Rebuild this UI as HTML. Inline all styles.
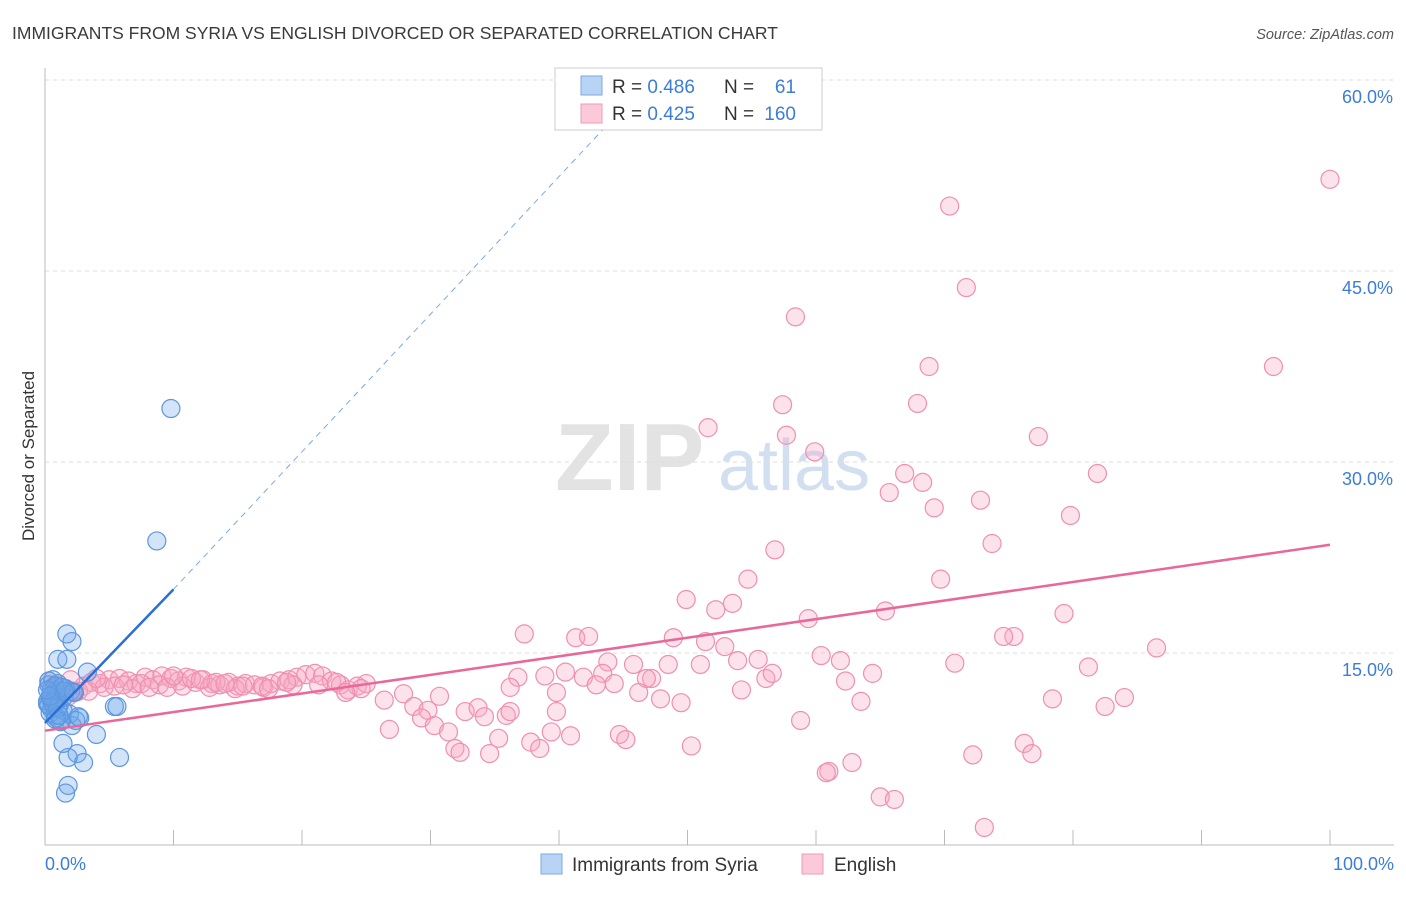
<!DOCTYPE html>
<html><head><meta charset="utf-8"><style>
body{margin:0;background:#fff;font-family:"Liberation Sans",sans-serif}
svg text{font-family:"Liberation Sans",sans-serif}
</style></head><body>
<svg id="chart" width="1406" height="892" viewBox="0 0 1406 892" xmlns="http://www.w3.org/2000/svg">
<text x="12" y="39" font-size="17.5" fill="#3a3a3a">IMMIGRANTS FROM SYRIA VS ENGLISH DIVORCED OR SEPARATED CORRELATION CHART</text>
<text x="1394" y="39" font-size="14.5" fill="#555" font-style="italic" text-anchor="end">Source: ZipAtlas.com</text>
<g>
<text x="555" y="490" font-size="96" fill="#ddd" font-family="Liberation Serif" font-weight="bold" opacity="0.8">ZIP</text>
<text x="718" y="490" font-size="72" fill="#c8d8ee" opacity="0.8">atlas</text>
</g>
<g id="grid"></g>
<g id="axes"></g>
<g id="pts"></g>
<g id="lines"></g>
<text transform="translate(34,456) rotate(-90)" font-size="17" fill="#333" text-anchor="middle">Divorced or Separated</text>
<g>
<rect x="555" y="68" width="267" height="62" fill="#fff" stroke="#ccc"/>
<rect x="581" y="76" width="21" height="19" fill="#b9d3f5" stroke="#7aa9e6"/>
<rect x="581" y="104" width="21" height="19" fill="#fcc9d8" stroke="#f09ab5"/>
<text x="612" y="93" font-size="19" fill="#333">R = <tspan fill="#3b7dd8">0.486</tspan></text>
<text x="724" y="93" font-size="19" fill="#333">N =</text><text x="796" y="93" font-size="19" fill="#3b7dd8" text-anchor="end">61</text>
<text x="612" y="120" font-size="19" fill="#333">R = <tspan fill="#3b7dd8">0.425</tspan></text>
<text x="724" y="120" font-size="19" fill="#333">N =</text><text x="796" y="120" font-size="19" fill="#3b7dd8" text-anchor="end">160</text>
</g>
<g>
<rect x="541" y="854" width="21" height="20" fill="#b9d3f5" stroke="#7aa9e6"/>
<text x="572" y="871" font-size="19" fill="#333">Immigrants from Syria</text>
</g>
<g>
<rect x="802" y="854" width="21" height="20" fill="#fcc9d8" stroke="#f09ab5"/>
<text x="834" y="871" font-size="19" fill="#333">English</text>
</g>
</svg>
<script>
const yTicks=[15,30,45,60];
const xTickLabels=["0.0%","100.0%"];
const blueX=[9.8,8.7,1.7,2.1,1.0,1.7,3.3,5.4,4.0,5.8,2.5,3.0,1.8,1.4,1.8,1.6,2.7,2.1,1.3,0.8,0.3,0.5,0.8,1.0,1.2,0.4,0.6,0.9,1.5,2.0,2.3,0.2,0.5,0.7,1.1,1.4,0.3,0.6,1.9,2.4,5.6,1.2,0.9,0.4,0.2,1.6,0.8,0.5,1.0,1.3,0.7,2.2,0.3,0.6,1.0,1.5,0.4,0.8,1.1,0.2,2.6];
const blueY=[34.2,23.8,16.5,15.9,14.5,14.5,13.5,10.8,8.6,6.8,7.1,6.4,6.8,7.9,4.6,4.0,9.9,9.3,9.7,10.1,12.5,12.2,12.0,12.6,11.8,11.4,11.0,11.2,11.6,12.0,11.9,11.0,10.6,10.8,10.9,10.5,12.8,12.9,10.2,9.7,10.8,9.6,9.9,10.3,11.2,12.2,12.4,11.7,11.5,12.3,11.3,11.9,10.9,11.1,10.7,12.0,11.6,9.8,10.1,12.1,10.0];
const pinkX=[100,70.4,71.7,58.4,68.8,95.6,57.4,67.9,51.6,57.7,77.3,59.9,66.9,81.9,68.3,65.7,72.8,69.2,79.8,73.7,56.8,54.7,69.7,49.9,53.5,52.2,65.4,59.4,79.3,37.3,41.3,42.3,75.4,74.6,48.9,51.4,52.9,86.5,60.4,43.8,45.8,48.5,51.0,53.9,55.5,61.9,70.8,81.2,64.4,40.5,36.8,38.9,41.9,43.4,47.2,44.3,42.9,46.8,56.1,56.6,62.3,54.2,46.2,47.9,49.5,63.5,84.0,78.4,82.5,39.8,36.2,30.7,27.9,26.4,28.7,29.8,32.7,33.7,34.2,35.9,36.2,39.8,29.3,30.3,58.8,26.8,31.4,35.3,37.8,39.4,40.9,44.7,45.2,31.9,32.3,34.6,38.5,50.3,76.2,76.8,72.2,62.8,61.0,60.8,65.0,66.1,73.1,
0.3,0.8,1.5,2.2,3.0,3.6,4.3,5.0,5.8,6.5,7.1,7.8,8.4,9.1,9.8,10.4,11.0,11.7,12.3,13.0,13.6,14.3,15.0,15.6,16.3,17.0,17.6,18.3,19.0,19.6,20.3,21.0,21.6,22.3,23.0,23.6,24.3,25.0,1.0,2.6,4.6,6.8,8.9,10.7,12.8,14.8,16.9,19.3,22.7,24.6,0.5,1.8,3.4,5.4,7.5,9.5,11.4,13.3,15.4,17.4,18.8,21.3,23.4,2.0,4.0,6.1,8.1,10.0,12.1,14.0];
const pinkY=[52.2,50.1,43.7,41.4,37.5,37.5,34.5,34.6,32.7,32.1,32.0,30.8,29.1,29.1,28.4,27.6,27.0,26.4,25.8,23.6,23.1,20.8,20.8,19.2,18.9,18.4,18.3,17.7,18.1,16.5,16.2,16.3,16.3,16.3,16.2,15.9,15.5,15.4,14.8,14.3,14.1,14.1,14.1,14.4,14.5,14.4,14.2,13.9,13.4,13.5,13.1,13.2,13.1,13.4,13.0,12.6,12.5,13.0,13.0,13.4,12.8,12.1,11.9,11.4,11.1,11.2,11.5,11.4,10.8,11.9,12.3,11.6,11.8,11.3,10.8,10.5,10.4,10.7,10.0,10.1,10.4,10.4,9.9,9.3,9.7,9.0,8.8,8.3,8.0,8.8,8.5,8.6,8.2,7.5,7.2,7.1,7.5,7.7,7.9,7.1,7.0,6.4,5.7,5.6,3.7,3.5,1.3,
12.8,12.5,12.2,12.0,12.4,12.7,12.6,12.9,13.0,12.8,12.6,13.1,12.9,13.2,13.0,12.8,13.1,12.7,12.9,12.6,12.5,12.7,12.4,12.6,12.5,12.3,12.6,12.8,12.9,13.1,13.3,13.4,13.2,12.8,12.5,12.1,12.4,12.6,11.8,12.0,12.3,12.2,12.5,12.4,12.3,12.2,12.4,12.5,12.7,12.2,12.0,11.6,12.0,12.4,12.6,12.3,13.0,12.7,12.4,12.2,12.7,12.5,11.9,12.9,13.0,12.5,12.3,13.2,12.9,12.6];
const blueTrend=[[0,9.5],[10,20.0]];
const blueDash=[[10,20.0],[43.5,56.2]];
const pinkTrend=[[0,8.9],[100,23.5]];
const X0=45,X1=1330,Y0=844,PPY=12.733;
const sx=v=>X0+(X1-X0)*v/100, sy=v=>Y0-v*PPY;
const NS="http://www.w3.org/2000/svg";
function mk(t,a,p){const e=document.createElementNS(NS,t);for(const k in a)e.setAttribute(k,a[k]);p.appendChild(e);return e;}
const grid=document.getElementById('grid'),axes=document.getElementById('axes'),pts=document.getElementById('pts'),lines=document.getElementById('lines');
yTicks.forEach(t=>{
 const l=mk('line',{x1:45,x2:1394,y1:sy(t),y2:sy(t),stroke:'#ddd','stroke-dasharray':'4,4'},grid);
 
 
 const tx=mk('text',{x:1393,y:sy(t)+23,'font-size':18,fill:'#3b7dd8','text-anchor':'end'},axes);
 tx.textContent=t.toFixed(1)+'%';
 
 
});
const ya=mk('line',{x1:45,x2:45,y1:68,y2:845,stroke:'#bbb'},axes);


const xa=mk('line',{x1:45,x2:1394,y1:845,y2:845,stroke:'#bbb'},axes);


for(let i=0;i<=10;i++){
 const tk=mk('line',{x1:sx(i*10),x2:sx(i*10),y1:830,y2:845,stroke:'#bbb'},axes);
 
 
}
[[0,'start',45],[1,'end',1394]].forEach(([i,a,x])=>{
 const t=mk('text',{x:x,y:870,'font-size':18,fill:'#3b7dd8','text-anchor':a},axes);
 t.textContent=xTickLabels[i];
 
 
});
pinkX.forEach((v,i)=>{
 const c=mk('circle',{cx:sx(v),cy:sy(pinkY[i]),r:9,fill:'rgba(246,166,194,0.33)',stroke:'#f08fb0','stroke-width':1.2},pts);
 
 
});
blueX.forEach((v,i)=>{
 const c=mk('circle',{cx:sx(v),cy:sy(blueY[i]),r:9,fill:'rgba(110,165,232,0.3)',stroke:'#5b97e0','stroke-width':1.2},pts);
 
 
});
const bl=mk('line',{x1:sx(blueTrend[0][0]),y1:sy(blueTrend[0][1]),x2:sx(blueTrend[1][0]),y2:sy(blueTrend[1][1]),stroke:'#2a6fd6','stroke-width':2.5},lines);


const bd=mk('line',{x1:sx(blueDash[0][0]),y1:sy(blueDash[0][1]),x2:sx(blueDash[1][0]),y2:sy(blueDash[1][1]),stroke:'#7aa9e6','stroke-width':1,'stroke-dasharray':'6,5'},lines);


const pl=mk('line',{x1:sx(pinkTrend[0][0]),y1:sy(pinkTrend[0][1]),x2:sx(pinkTrend[1][0]),y2:sy(pinkTrend[1][1]),stroke:'#e8689a','stroke-width':2.5},lines);


</script>
</body></html>
